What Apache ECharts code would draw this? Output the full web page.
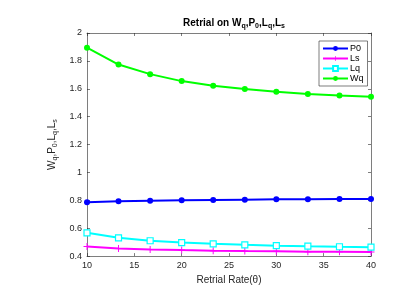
<!DOCTYPE html>
<html><head><meta charset="utf-8">
<script src="https://cdn.jsdelivr.net/npm/echarts@6/dist/echarts.min.js"></script>
<style>html,body{margin:0;padding:0;background:#fff}#c{width:404px;height:290px}</style>
</head><body><div id="c"></div>
<script>
const xs = [10, 13.33, 16.67, 20, 23.33, 26.67, 30, 33.33, 36.67, 40];
const P0 = [0.787, 0.793, 0.797, 0.800, 0.803, 0.805, 0.807, 0.808, 0.809, 0.810];
const Ls = [0.469, 0.455, 0.448, 0.443, 0.439, 0.436, 0.434, 0.432, 0.431, 0.429];
const Lq = [0.567, 0.531, 0.510, 0.497, 0.488, 0.481, 0.475, 0.471, 0.467, 0.464];
const Wq = [1.895, 1.774, 1.705, 1.655, 1.621, 1.598, 1.578, 1.562, 1.552, 1.543];
const seriesNames = ['P0', 'Ls', 'Lq', 'Wq'];
const xTicks = [10, 15, 20, 25, 30, 35, 40];
const yTicks = [0.4, 0.6, 0.8, 1, 1.2, 1.4, 1.6, 1.8, 2];

const axisCol = '#262626';
const font = 'Liberation Sans, Arial, sans-serif';
const pair = a => xs.map((x, i) => [x, a[i]]);
const plus = 'path://M4.3,0h1.4v10h-1.4z M0,4.3h10v1.4h-10z';

const chart = echarts.init(document.getElementById('c'), null, {renderer: 'canvas'});
const baseAxis = {
  axisLine: {show: true, lineStyle: {color: axisCol, width: 0.6}},
  axisTick: {show: true, inside: true, length: 3, lineStyle: {color: axisCol, width: 0.6}},
  splitLine: {show: false},
  axisLabel: {color: axisCol, fontSize: 9, fontFamily: font}
};
const subRich = {
  n: {fontSize: 10, fontWeight: 'bold', fontFamily: font, color: '#000'},
  s: {fontSize: 7, fontWeight: 'bold', fontFamily: font, color: '#000', padding: [6, 0, 0, 0]}
};
const yRich = {
  n: {fontSize: 10, fontFamily: font, color: axisCol},
  s: {fontSize: 7, fontFamily: font, color: axisCol, padding: [6, 0, 0, 0]}
};
chart.setOption({
  animation: false,
  backgroundColor: '#fff',
  title: {
    text: '{n|Retrial on W}{s|q}{n|,P}{s|0}{n|,L}{s|q}{n|,L}{s|s}',
    left: 229, top: 12, textAlign: 'center',
    textStyle: {rich: subRich}
  },
  grid: {left: 87, right: 33, top: 33, bottom: 33, show: false},
  legend: {
    orient: 'vertical', left: 319, top: 41,
    data: seriesNames,
    itemWidth: 25, itemHeight: 6, itemGap: 1,
    padding: [3, 4, 3, 3],
    borderColor: axisCol, borderWidth: 0.6,
    backgroundColor: '#fff',
    textStyle: {fontSize: 9, lineHeight: 9, fontFamily: font, color: '#000', padding: [0, 0, 0, -3]}
  },
  xAxis: [
    Object.assign({}, baseAxis, {
      type: 'value', min: 10, max: 40, interval: 5, position: 'bottom',
      name: 'Retrial Rate(θ)', nameLocation: 'middle', nameGap: 16,
      nameTextStyle: {fontSize: 10, fontFamily: font, color: axisCol},
      axisLabel: Object.assign({}, baseAxis.axisLabel, {margin: 5, formatter: v => xTicks.includes(v) ? String(v) : ''})
    }),
    Object.assign({}, baseAxis, {
      type: 'value', min: 10, max: 40, interval: 5, position: 'top',
      axisLabel: {show: false}
    })
  ],
  yAxis: [
    Object.assign({}, baseAxis, {
      type: 'value', min: 0.4, max: 2, interval: 0.2, position: 'left',
      name: '{n|W}{s|q}{n|,P}{s|0}{n|,L}{s|q}{n|,L}{s|s}', nameLocation: 'middle', nameGap: 20,
      nameTextStyle: {rich: yRich},
      axisLabel: Object.assign({}, baseAxis.axisLabel, {margin: 5, formatter: v => {
        const t = yTicks.find(k => Math.abs(k - v) < 1e-6);
        return t === undefined ? '' : String(t);
      }})
    }),
    Object.assign({}, baseAxis, {
      type: 'value', min: 0.4, max: 2, interval: 0.2, position: 'right',
      axisLabel: {show: false}
    })
  ],
  series: [
    {name: 'P0', type: 'line', data: pair(P0), symbol: 'circle', symbolSize: 6,
     lineStyle: {color: '#0000ff', width: 2}, itemStyle: {color: '#0000ff'}},
    {name: 'Ls', type: 'line', data: pair(Ls), symbol: plus, symbolSize: 7,
     lineStyle: {color: '#ff00ff', width: 2}, itemStyle: {color: '#ff00ff'}},
    {name: 'Lq', type: 'line', data: pair(Lq), symbol: 'rect', symbolSize: 6,
     lineStyle: {color: '#00ffff', width: 2}, itemStyle: {color: '#fff', borderColor: '#00ffff', borderWidth: 1.2}},
    {name: 'Wq', type: 'line', data: pair(Wq), symbol: 'circle', symbolSize: 6,
     lineStyle: {color: '#00ff00', width: 2}, itemStyle: {color: '#00ff00'}}
  ]
});
</script>
</body></html>
